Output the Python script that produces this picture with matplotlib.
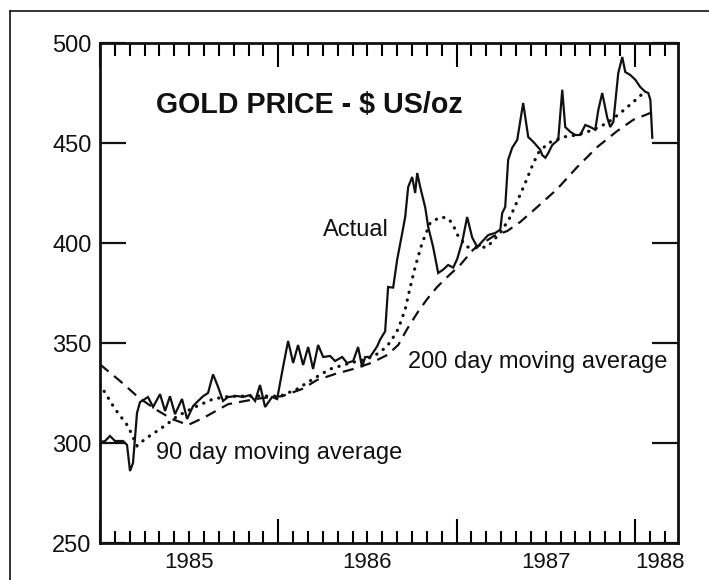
import numpy as np
import matplotlib
matplotlib.use("Agg")
import matplotlib.pyplot as plt
from matplotlib.lines import Line2D
from matplotlib.ticker import MultipleLocator

plt.rcParams["font.family"] = ["Liberation Sans", "DejaVu Sans"]

# months since Jan 1985 -> gold price ($ US/oz)
actual_m = [0.0, 0.34, 0.67, 1.01, 1.55, 1.82, 2.02, 2.22, 2.49, 2.69, 3.23, 3.57, 4.04, 4.38,
            4.71, 5.05, 5.52, 5.86, 6.26, 6.60, 6.94, 7.27, 7.61, 7.95, 8.28, 8.62, 9.23, 9.63,
            10.10, 10.44, 10.77, 11.11, 11.58, 11.92, 12.32, 12.66, 13.00, 13.33, 13.67, 14.01,
            14.34, 14.68, 15.02, 15.49, 15.82, 16.30, 16.63, 17.04, 17.37, 17.64, 17.85, 18.18,
            18.65, 18.86, 19.19, 19.39, 19.73, 20.00, 20.34, 20.54, 20.74, 21.01, 21.21, 21.35,
            21.55, 21.89, 22.09, 22.42, 22.76, 23.10, 23.43, 23.77, 24.04, 24.38, 24.71, 25.05,
            25.39, 25.72, 26.13, 26.60, 26.94, 27.07, 27.27, 27.47, 27.74, 28.08, 28.48, 28.82,
            29.16, 29.63, 29.76, 29.97, 30.17, 30.44, 30.84, 31.11, 31.31, 31.65, 31.99, 32.32,
            32.66, 33.00, 33.33, 33.54, 33.80, 34.14, 34.34, 34.55, 34.88, 35.15, 35.35, 35.69,
            36.03, 36.36, 36.70, 36.90, 37.04, 37.17]
actual_p = [300.4, 301, 303.5, 301, 301, 299, 286, 290, 315, 320.4, 323, 318, 324.4, 316,
            323.4, 314.4, 322, 312, 318.4, 321, 323.4, 325, 334.3, 328, 321, 323, 323.5, 323,
            324, 321, 329, 318, 323, 322, 338, 351, 340, 349, 339, 348,
            337, 349, 343, 343.5, 341, 343, 340, 341, 348, 338, 343, 343,
            348.3, 351.8, 355.8, 378, 377.7, 391.7, 405, 413, 428, 433, 425, 435,
            428, 417.7, 408, 398, 385, 386.7, 389, 387.7, 392, 400.7, 413, 402.7,
            398, 400.7, 404, 405, 406.7, 415, 418, 441.6, 447.6, 451.6, 470, 453,
            450.6, 446.6, 444, 442.6, 445, 449, 451.6, 476.6, 458, 455.6, 454, 454,
            459, 458, 456.6, 466.6, 475, 462.6, 458, 460.6, 485, 493, 485.5, 484,
            481.6, 478, 475.6, 475, 471.6, 452.6]

ma90_m = [0.0, 1.01, 1.89, 2.49, 3.03, 3.84, 4.51, 5.19, 6.40, 7.61, 8.75, 10.77, 12.12,
          13.27, 14.34, 15.49, 16.84, 17.98, 18.86, 19.53, 20.07, 20.54, 20.88, 21.21, 21.68,
          22.22, 22.90, 23.37, 23.70, 24.11, 24.71, 25.39, 26.06, 26.94, 27.61, 28.15, 28.62,
          29.09, 29.49, 30.17, 31.18, 32.12, 33.20, 34.14, 35.02, 35.89, 36.57]
ma90_p = [329.3, 317, 308.4, 298.5, 302, 306, 309.4, 313.4, 318, 322, 323.4, 323.5, 323.4,
          327, 332, 337, 340, 342, 345.3, 350.3, 357, 366.8, 378, 388, 400,
          410, 413, 412.5, 410, 403.3, 398, 397.7, 398, 405, 413, 422, 430,
          438.6, 445, 450, 453, 454, 456.6, 460, 465, 470.5, 475]

ma200_m = [0.0, 1.35, 2.56, 3.70, 4.85, 5.93, 7.07, 8.62, 9.76, 10.91, 12.26, 13.60, 14.61,
           15.82, 17.04, 18.25, 19.33, 20.07, 20.67, 21.35, 22.02, 22.69, 23.37, 24.24, 25.12,
           26.46, 27.41, 28.28, 29.43, 30.77, 32.12, 33.47, 34.81, 35.89, 37.24]
ma200_p = [339.3, 331, 323, 317, 312, 309, 313, 319.4, 321, 322.5, 323.4, 327, 331.5,
           334.5, 337, 340, 344, 349, 357, 365, 372, 378, 383, 389, 396.7,
           403.3, 406, 410.5, 418, 427, 438, 448, 456, 461.6, 465.6]

year_labels = ["1985", "1986", "1987", "1988"]
year_label_pos = [6, 18, 30, 37.7]

ink = "#111111"

fig = plt.figure(figsize=(7.09, 5.80), dpi=100)
ax = fig.add_axes([100 / 709, 37 / 580, 578 / 709, 500 / 580])

ax.plot(actual_m, actual_p, color=ink, lw=1.6, solid_joinstyle="miter")
ax.plot(ma90_m, ma90_p, color=ink, lw=2.3, linestyle=(0, (0.1, 2.4)),
        dash_capstyle="round")
ax.plot(ma200_m, ma200_p, color=ink, lw=1.6, linestyle=(0, (5, 3.2)))

ax.set_xlim(0, 38.9)
ax.set_ylim(250, 500)

for s in ax.spines.values():
    s.set_linewidth(2.0)
    s.set_color(ink)

ax.yaxis.set_major_locator(MultipleLocator(50))
ax.tick_params(axis="y", which="major", direction="in", length=19, width=1.6,
               left=True, right=True, labelsize=17, pad=6, colors=ink)

ax.xaxis.set_major_locator(MultipleLocator(12))
ax.xaxis.set_minor_locator(MultipleLocator(1))
ax.tick_params(axis="x", which="major", direction="in", length=17, width=1.5,
               top=True, bottom=True, labelbottom=False)
ax.tick_params(axis="x", which="minor", direction="in", length=9, width=1.5,
               top=True, bottom=True)

for lab, pos in zip(year_labels, year_label_pos):
    ax.text(pos, -0.04, lab, transform=ax.get_xaxis_transform(), ha="center",
            va="center", fontsize=16, color=ink)

ax.text(0.097, 0.876, "GOLD PRICE - $ US/oz", transform=ax.transAxes, ha="left",
        va="center", fontsize=20.6, fontweight="bold", color=ink)
ax.text(15.0, 406.5, "Actual", ha="left", va="center", fontsize=17, color=ink)
ax.text(20.7, 340.5, "200 day moving average", ha="left", va="center", fontsize=17,
        color=ink)
ax.text(3.8, 295, "90 day moving average", ha="left", va="center", fontsize=17,
        color=ink)

# scanned page border
fig.add_artist(Line2D([10 / 709, 1], [1 - 11 / 580] * 2, transform=fig.transFigure,
                      color=ink, lw=1.2))
fig.add_artist(Line2D([10 / 709] * 2, [0, 1 - 11 / 580], transform=fig.transFigure,
                      color=ink, lw=1.2))

fig.savefig("out.png", dpi=100, facecolor="white")
